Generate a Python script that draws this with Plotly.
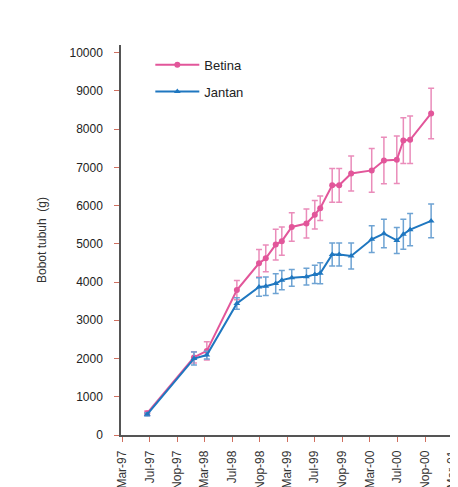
import plotly.graph_objects as go

# Data
dates_betina = ["1997-06-20", "1998-01-13", "1998-03-11", "1998-07-22", "1998-10-28",
                "1998-11-27", "1999-01-10", "1999-02-06", "1999-03-22", "1999-05-26",
                "1999-07-02", "1999-07-26", "1999-09-17", "1999-10-18", "1999-12-10",
                "2000-03-10", "2000-05-03", "2000-06-29", "2000-07-28", "2000-08-27",
                "2000-11-28"]
betina = [570, 2030, 2200, 3790, 4490, 4620, 4980, 5070, 5440, 5530, 5760, 5930,
          6530, 6530, 6840, 6920, 7180, 7200, 7700, 7720, 8410]
betina_err = [60, 150, 240, 250, 360, 350, 400, 370, 370, 380, 370, 320,
              440, 440, 460, 570, 610, 620, 600, 620, 660]

dates_jantan = dates_betina
jantan = [540, 2000, 2090, 3440, 3870, 3890, 3960, 4050, 4110, 4140, 4200, 4230,
          4720, 4720, 4680, 5120, 5270, 5090, 5250, 5370, 5600]
jantan_err = [40, 170, 100, 150, 240, 240, 260, 250, 220, 220, 240, 275,
              300, 300, 340, 350, 370, 340, 390, 420, 440]

tick_dates = ["1997-03-01", "1997-07-01", "1997-11-01", "1998-03-01", "1998-07-01",
              "1998-11-01", "1999-03-01", "1999-07-01", "1999-11-01", "2000-03-01",
              "2000-07-01", "2000-11-01", "2001-03-01"]
tick_labels = ["Mar-97", "Jul-97", "Nop-97", "Mar-98", "Jul-98", "Nop-98", "Mar-99",
               "Jul-99", "Nop-99", "Mar-00", "Jul-00", "Nop-00", "Mar-01"]

y_ticks = [0, 1000, 2000, 3000, 4000, 5000, 6000, 7000, 8000, 9000, 10000]
y_labels = ["0", "1000", "2000", "3000", "4000", "5000", "6000", "7000", "8000",
            "9000", "10000"]

pink = "#e2569a"
pink_err = "#ea8cba"
blue = "#1f77c0"
blue_err = "#6ea3d3"

fig = go.Figure()
fig.add_trace(go.Scatter(
    x=dates_betina, y=betina, name="Betina", mode="lines+markers", legendgroup="b",
    line=dict(color=pink, width=2),
    marker=dict(symbol="circle", size=6, color=pink),
    error_y=dict(type="data", array=betina_err, color=pink_err, thickness=1.5, width=3),
))
fig.add_trace(go.Scatter(
    x=dates_jantan, y=jantan, name="Jantan", mode="lines+markers", legendgroup="j",
    line=dict(color=blue, width=2),
    marker=dict(symbol="triangle-up", size=6, color=blue),
    error_y=dict(type="data", array=jantan_err, color=blue_err, thickness=1.5, width=3),
))

# the page body adds an 8px offset, so margins are compensated
fig.update_layout(
    width=458, height=487,
    margin=dict(l=113, r=8, t=37, b=60),
    paper_bgcolor="white", plot_bgcolor="white",
    font=dict(family="Liberation Sans, Arial, sans-serif", size=12, color="#222"),
    showlegend=True,
    legend=dict(x=0.087, y=0.988, xanchor="left", yanchor="top",
                bgcolor="rgba(0,0,0,0)", font=dict(size=13, color="#222"),
                tracegroupgap=7, itemwidth=44),
    xaxis=dict(
        type="date", range=["1997-02-24", "2001-03-27"], automargin=False,
        tickmode="array", tickvals=tick_dates, ticktext=tick_labels,
        tickangle=-90, ticks="outside", ticklen=5, tickcolor="#d07060",
        ticklabelstandoff=4,
        showline=True, linecolor="#555", linewidth=1.5,
        showgrid=False, zeroline=False,
        tickfont=dict(size=12, color="#333"),
    ),
    yaxis=dict(
        range=[0, 10200], tickmode="array", tickvals=y_ticks, ticktext=y_labels,
        automargin=False,
        ticks="outside", ticklen=5, tickcolor="#d07060", ticklabelstandoff=9,
        showline=True, linecolor="#555", linewidth=1.5,
        showgrid=False, zeroline=False,
        tickfont=dict(size=12, color="#222"),
        title=dict(text="Bobot tubuh  (g)", font=dict(size=12, color="#333"), standoff=20),
    ),
)

fig.write_html("out.html")
